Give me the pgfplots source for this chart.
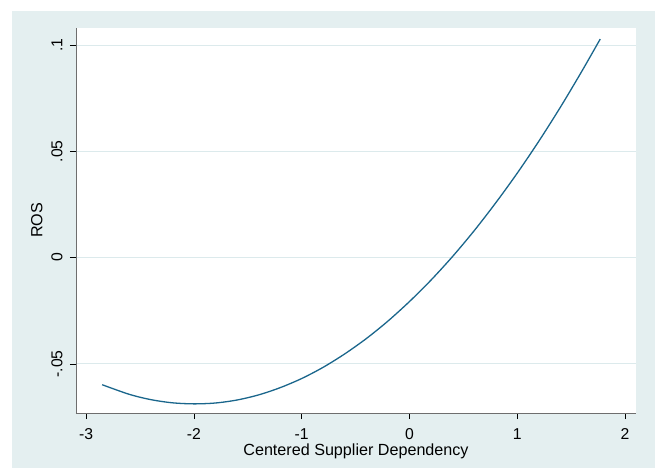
\documentclass[border=0pt]{standalone}
\usepackage{pgfplots}
\pgfplotsset{compat=1.18}
\usepackage{fontspec}
\setmainfont{Liberation Sans}
\definecolor{bgc}{RGB}{228,239,240}
\definecolor{gridc}{RGB}{220,234,236}
\definecolor{linec}{RGB}{26,102,140}
\definecolor{axc}{RGB}{110,110,110}
\begin{document}
\begin{tikzpicture}
\fill[white] (-76bp,-55bp) rectangle (579bp,413bp);
\fill[bgc] (-64bp,-55bp) rectangle (579bp,402bp);
\fill[white] (0bp,0bp) rectangle (560bp,385bp);
\begin{axis}[
  at={(0bp,0bp)}, anchor=south west,
  scale only axis, width=560bp, height=385bp,
  xmin=-3.093, xmax=2.102, ymin=-0.0731, ymax=0.108,
  axis x line*=bottom, axis y line*=left,
  axis line style={axc, line width=1pt},
  every outer x axis line/.append style={-}, every outer y axis line/.append style={-},
  xtick={-3,-2,-1,0,1,2},
  xticklabels={-3,-2,-1,0,1,2},
  ytick={-0.05,0,0.05,0.1},
  yticklabels={-.05,0,.05,.1},
  yticklabel style={rotate=90, anchor=south},
  tick align=outside, major tick length=6bp,
  tick style={black, line width=0.6pt},
  ymajorgrids, grid style={gridc, line width=0.8pt},
  tick label style={font=\fontsize{15.8}{17}\selectfont},
  label style={font=\fontsize{16.2}{18}\selectfont},
  /pgf/number format/assume math mode=true,
  xticklabel shift=6bp,
  yticklabel shift=4bp,
  xlabel={Centered Supplier Dependency},
  ylabel={ROS},
  xlabel style={at={(axis description cs:0.5,0)}, anchor=north, yshift=-27bp},
  ylabel style={at={(axis description cs:0,0.5)}, anchor=south, yshift=30bp},
  clip=false,
]
\addplot[linec, line width=1.3pt, smooth] coordinates {
(-2.85,-0.0598) (-2.6,-0.0643) (-2.4,-0.0668) (-2.2,-0.0683) (-2.0,-0.0688)
(-1.8,-0.0684) (-1.6,-0.0670) (-1.4,-0.0646) (-1.2,-0.0612) (-1.0,-0.0569)
(-0.8,-0.0516) (-0.6,-0.0453) (-0.4,-0.0381) (-0.2,-0.0299) (0.0,-0.0207)
(0.2,-0.0106) (0.4,0.0005) (0.6,0.0126) (0.8,0.0257) (1.0,0.0397)
(1.2,0.0547) (1.4,0.0707) (1.6,0.0877) (1.77,0.1028)
};
\end{axis}
\end{tikzpicture}
\end{document}
